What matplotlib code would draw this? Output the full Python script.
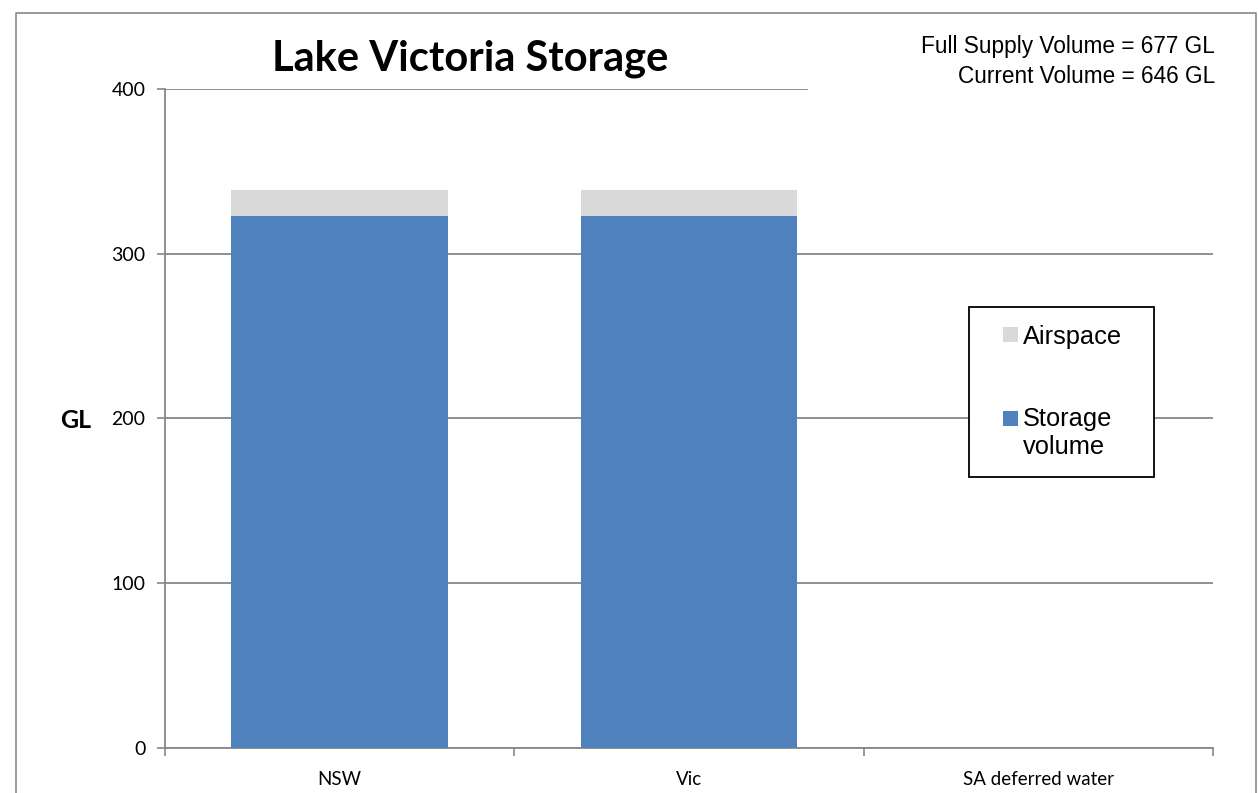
import matplotlib.pyplot as plt
import matplotlib.patches as mpatches
from matplotlib.lines import Line2D
from matplotlib.legend_handler import HandlerPatch, update_from_first_child

categories = ["NSW", "Vic", "SA deferred water"]
storage = [323, 323, 0]
airspace = [15.5, 15.5, 0]
yticks = [0, 100, 200, 300, 400]
full_supply = 677
current = 646

blue = "#4F81BD"
grey = "#D9D9D9"
line_c = "#878787"

W, H = 1258, 793
fig = plt.figure(figsize=(W / 100, H / 100), dpi=100)
ax = fig.add_axes([165 / W, 1 - 747.7 / H, (1213 - 165) / W, (747.7 - 89) / H])

x = list(range(len(categories)))
b1 = ax.bar(x, storage, width=0.62, color=blue, label="Storage\nvolume", zorder=3)
b2 = ax.bar(x, airspace, width=0.62, bottom=storage, color=grey, label="Airspace", zorder=3)

ax.set_xlim(-0.5, len(categories) - 0.5)
ax.set_ylim(0, 400)
ax.set_yticks(yticks)
ax.set_xticks(x)
ax.set_xticklabels(categories, family="Lato", fontsize=13.5)
ax.set_xticks([i - 0.5 for i in range(len(categories) + 1)], minor=True)
ax.tick_params(axis="x", which="major", length=0, pad=17)
ax.tick_params(axis="x", which="minor", length=6, color=line_c, width=1.2)
ax.tick_params(axis="y", length=6, color=line_c, width=1.2, pad=8)
for t in ax.get_yticklabels():
    t.set_family("Lato")
    t.set_fontsize(14)

ax.yaxis.grid(True, color=line_c, linewidth=1.3, zorder=0)
ax.set_axisbelow(True)
for s in ["top", "right"]:
    ax.spines[s].set_visible(False)
for s in ["left", "bottom"]:
    ax.spines[s].set_color(line_c)
    ax.spines[s].set_linewidth(1.3)

fig.text(76 / W, 1 - 421 / H, "GL", family="Lato", fontweight="bold", fontsize=18,
         ha="center", va="center")


# square handle at right end of the handle box; raised to first line for 2-line labels
def square(legend, orig_handle, xdescent, ydescent, width, height, fontsize):
    shift = 0.6 * fontsize if "\n" in orig_handle.get_label() else 0
    return mpatches.Rectangle((-xdescent + width - height, -ydescent + shift), height, height)


hm = {b1: HandlerPatch(patch_func=square, update_func=update_from_first_child),
      b2: HandlerPatch(patch_func=square, update_func=update_from_first_child)}
leg = fig.legend([b2, b1], ["Airspace", "Storage\nvolume"], loc="upper left",
                 bbox_to_anchor=(969 / W, 1 - 472 / H, (1154 - 969) / W, 165 / H),
                 mode="expand",
                 prop={"family": "Liberation Sans", "size": 18.3},
                 frameon=True, fancybox=False, framealpha=1, edgecolor="black",
                 borderpad=0.7, labelspacing=2.3, handletextpad=0.2,
                 handlelength=1.22, handleheight=0.51, borderaxespad=0,
                 handler_map=hm)
leg.get_frame().set_linewidth(1.3)
leg.set_zorder(5)

# outer chart border
fig.add_artist(Line2D([16 / W, 16 / W, 1256 / W, 1256 / W], [-0.1, 1 - 13 / H, 1 - 13 / H, -0.1],
                      color=line_c, linewidth=1.2))

# white box behind the volume notes hides the top gridline
fig.add_artist(mpatches.Rectangle((808 / W, 1 - 100 / H), 445 / W, 82 / H,
                                  facecolor="white", edgecolor="none", zorder=1))

fig.text(470 / W, 1 - 70 / H, "Lake Victoria Storage", family="Lato", fontweight="bold",
         fontsize=30, ha="center", va="baseline", zorder=3)
fig.text(1215 / W, 1 - 53 / H, f"Full Supply Volume = {full_supply} GL",
         family="Liberation Sans", fontsize=16.3, ha="right", va="baseline", zorder=3)
fig.text(1215 / W, 1 - 83 / H, f"Current Volume = {current} GL",
         family="Liberation Sans", fontsize=16.3, ha="right", va="baseline", zorder=3)

fig.savefig("out.png", dpi=100)
